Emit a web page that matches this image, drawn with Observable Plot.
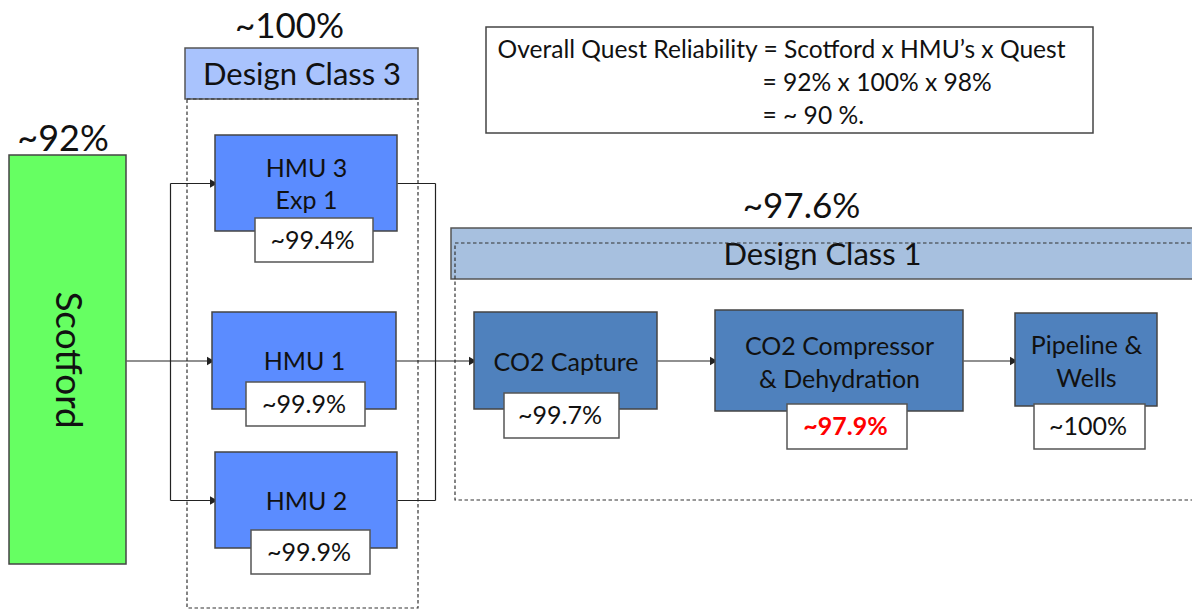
<!DOCTYPE html>
<html>
<head>
<meta charset="utf-8">
<script src="https://cdn.jsdelivr.net/npm/d3@7"></script>
<script src="https://cdn.jsdelivr.net/npm/@observablehq/plot@0.6"></script>
<style>
  html, body { margin: 0; padding: 0; background: #fff; }
  #chart svg { display: block; }
</style>
</head>
<body>
<div id="chart"></div>
<script>
// ---------- DATA ----------
const nodeNames = ["Scotford", "HMU 3\nExp 1", "HMU 1", "HMU 2", "CO2 Capture", "CO2 Compressor\n& Dehydration", "Pipeline &\nWells"];
const nodeReliability = ["~92%", "~99.4%", "~99.9%", "~99.9%", "~99.7%", "~97.9%", "~100%"];
const designClasses = ["Design Class 3", "Design Class 1"];
const classReliability = ["~100%", "~97.6%"];
const formulaLines = ["Overall Quest Reliability = Scotford x HMU’s x Quest", "= 92% x 100% x 98%", "= ~ 90 %."];

// ---------- LAYOUT (diagram units = pixels) ----------
const nodeBox = [[9,126,155,564],[215,397,135,231],[212,396,312,409],[215,397,452,548],[474,657,312,409],[715,963,310,411],[1015,1157,313,406]];
const labelBox = [null,[255,373,218,262],[246,365,382,426],[251,370,530,574],[504,619,393,438],[787,907,404,449],[1034,1145,404,449]];
const nodeFill = ["#66ff62","#5b8cff","#5b8cff","#5b8cff","#4f81bd","#4f81bd","#4f81bd"];
const classHeader = [[185,418,48,99],[451,1200,228,279]];
const classDashed = [[187,418,99,608],[455,1200,243,500]];
const classFill = ["#a9c3fd","#a7c0df"];
const formulaBox = [486,1093,27,133];

const font = "Lato, 'Noto Sans', sans-serif";

const nodes = nodeNames.map((name, i) => ({
  name, rel: nodeReliability[i], fill: nodeFill[i],
  x1: nodeBox[i][0], x2: nodeBox[i][1], y1: nodeBox[i][2], y2: nodeBox[i][3],
  cx: (nodeBox[i][0] + nodeBox[i][1]) / 2, cy: (nodeBox[i][2] + nodeBox[i][3]) / 2,
  lb: labelBox[i]
}));
const labels = nodes.filter(d => d.lb).map(d => ({
  rel: d.rel, red: d.rel === "~97.9%",
  x1: d.lb[0], x2: d.lb[1], y1: d.lb[2], y2: d.lb[3],
  cx: (d.lb[0] + d.lb[1]) / 2, cy: (d.lb[2] + d.lb[3]) / 2
}));
const classes = designClasses.map((name, i) => ({
  name, rel: classReliability[i], fill: classFill[i],
  x1: classHeader[i][0], x2: classHeader[i][1], y1: classHeader[i][2], y2: classHeader[i][3],
  d: classDashed[i]
}));

// connector segments built from node boxes
const [sc, h3, h1, h2, cap, comp, pipe] = nodes;
const splitX = 170, joinX = 435;
const segs = [
  {x1: sc.x2, y1: h1.cy, x2: h1.x1, y2: h1.cy},
  {x1: splitX, y1: h3.cy, x2: splitX, y2: h2.cy},
  {x1: splitX, y1: h3.cy, x2: h3.x1, y2: h3.cy},
  {x1: splitX, y1: h2.cy, x2: h2.x1, y2: h2.cy},
  {x1: h3.x2, y1: h3.cy, x2: joinX, y2: h3.cy},
  {x1: h2.x2, y1: h2.cy, x2: joinX, y2: h2.cy},
  {x1: joinX, y1: h3.cy, x2: joinX, y2: h2.cy},
  {x1: h1.x2, y1: h1.cy, x2: cap.x1, y2: h1.cy},
  {x1: cap.x2, y1: h1.cy, x2: comp.x1, y2: h1.cy},
  {x1: comp.x2, y1: h1.cy, x2: pipe.x1, y2: h1.cy}
];
const heads = [h3, h1, h2, cap, comp, pipe].map(n => ({x: n.x1 - 3, y: n === h3 ? h3.cy : n === h2 ? h2.cy : h1.cy}));

const chart = Plot.plot({
  width: 1192, height: 610, margin: 0,
  x: {domain: [0, 1192], range: [0, 1192], axis: null},
  y: {domain: [0, 610], range: [0, 610], axis: null},
  style: {fontFamily: font, background: "#fff"},
  marks: [
    // design class headers
    Plot.rect(classes, {x1: "x1", x2: "x2", y1: "y1", y2: "y2", fill: "fill", stroke: "#555", strokeWidth: 1.5}),
    Plot.text(classes, {x: d => d.name === "Design Class 1" ? 822 : (d.x1 + d.x2) / 2, y: d => (d.y1 + d.y2) / 2 + 1, text: "name", fontSize: 31, fill: "#111"}),
    Plot.text(classes, {x: d => d.name === "Design Class 1" ? 801 : 289, y: d => d.y1 - 22, text: "rel", fontSize: 35, fill: "#111"}),
    // dashed class regions
    Plot.rect(classes, {x1: d => d.d[0], x2: d => d.d[1], y1: d => d.d[2], y2: d => d.d[3], fill: "none", stroke: "#333", strokeWidth: 1.2, strokeDasharray: "3.5,2.5"}),
    // connectors
    Plot.link(segs, {x1: "x1", y1: "y1", x2: "x2", y2: "y2", stroke: "#222", strokeWidth: 1.2}),
    Plot.dot(heads, {x: "x", y: "y", symbol: "triangle", rotate: 90, r: 3.2, fill: "#222", stroke: "none"}),
    // node boxes
    Plot.rect(nodes, {x1: "x1", x2: "x2", y1: "y1", y2: "y2", fill: "fill", stroke: "#444", strokeWidth: 1.5}),
    Plot.text(nodes.slice(1), {x: "cx", y: d => d.name.startsWith("HMU") ? d.cy - 1 : d.cy, text: "name", fontSize: 25, lineHeight: 1.3, fill: "#111"}),
    Plot.text([sc], {x: "cx", y: "cy", text: "name", fontSize: 37, rotate: 90, fill: "#111"}),
    Plot.text([sc], {x: d => d.cx - 5, y: d => d.y1 - 16, text: "rel", fontSize: 36, fill: "#111"}),
    // reliability labels
    Plot.rect(labels, {x1: "x1", x2: "x2", y1: "y1", y2: "y2", fill: "#fff", stroke: "#555", strokeWidth: 1.5}),
    Plot.text(labels.filter(d => !d.red), {x: d => d.cx - 2, y: "cy", text: "rel", fontSize: 25, fill: "#111"}),
    Plot.text(labels.filter(d => d.red), {x: d => d.cx - 2, y: "cy", text: "rel", fontSize: 25, fill: "#ff0000", fontWeight: "bold"}),
    // formula box
    Plot.rect([formulaBox], {x1: d => d[0], x2: d => d[1], y1: d => d[2], y2: d => d[3], fill: "#fff", stroke: "#444", strokeWidth: 1.5}),
    Plot.text(formulaLines.map((t, i) => ({t, i})), {
      x: d => d.i === 0 ? 497 : 762, y: d => 50 + d.i * 33, text: "t", textAnchor: "start",
      fontSize: 24.6, fill: "#111"
    })
  ]
});
document.getElementById("chart").appendChild(chart);
</script>
</body>
</html>
